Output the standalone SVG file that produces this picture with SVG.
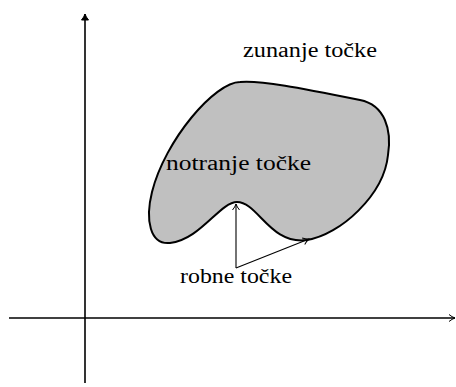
<svg xmlns="http://www.w3.org/2000/svg" width="456" height="387" viewBox="0 0 456 387">
<defs>
<style>
.ax{stroke:#000;stroke-width:1.6;fill:none}
.cn{stroke:#000;stroke-width:1.1;fill:none}
</style>
<marker id="ah" markerWidth="10" markerHeight="10" refX="8" refY="5" orient="auto" markerUnits="userSpaceOnUse">
<path d="M2,1.5 Q5,4 8,5 Q5,6 2,8.5" fill="none" stroke="#000" stroke-width="1"/>
</marker>
<marker id="ahb" markerWidth="10" markerHeight="10" refX="8" refY="5" orient="auto" markerUnits="userSpaceOnUse">
<path d="M2,1.5 Q5,4 8,5 Q5,6 2,8.5 Z" fill="#000" stroke="#000" stroke-width="1"/>
</marker>
</defs>
<g id="axes">
<line class="ax" x1="85" y1="383" x2="85" y2="14" marker-end="url(#ahb)"/>
<line class="ax" x1="9" y1="318" x2="455" y2="318" marker-end="url(#ah)"/>
</g>
<g id="region">
<path d="M237,202 C220,202 200,240 170,243 C150,245 145,220 152,192 C165,140 215,82 240,82 C260,80 300,88 360,100 C385,105 392,130 388,155 C384,195 340,235 307,240 C270,245 258,202 237,202 Z" fill="#c0c0c0" stroke="#000" stroke-width="2"/>
</g>
<g id="connectors">
<line class="cn" x1="236" y1="268" x2="236" y2="204" marker-end="url(#ah)"/>
<line class="cn" x1="236" y1="268" x2="309" y2="239" marker-end="url(#ah)"/>
</g>
<g id="labels" font-family="Liberation Serif, DejaVu Serif, serif" font-size="20" fill="#000">
<text x="243" y="57" textLength="134" lengthAdjust="spacingAndGlyphs">zunanje točke</text>
<text x="166" y="170" textLength="145" lengthAdjust="spacingAndGlyphs">notranje točke</text>
<text x="180" y="283" textLength="112" lengthAdjust="spacingAndGlyphs">robne točke</text>
</g>
</svg>
